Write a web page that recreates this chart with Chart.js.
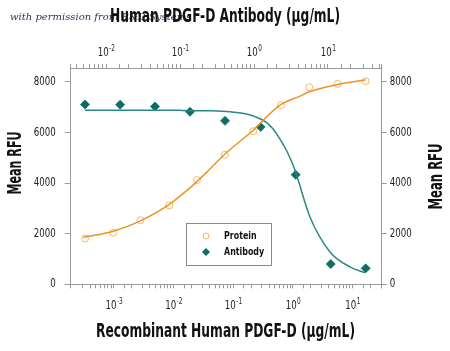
<!DOCTYPE html>
<html>
<head>
<meta charset="utf-8">
<script src="https://cdn.jsdelivr.net/npm/chart.js@4.4.1/dist/chart.umd.min.js"></script>
<style>
  body { margin: 0; background: #fff; }
</style>
</head>
<body>
<canvas id="pdgfChart" width="450" height="351"></canvas>
<script>
// Recombinant Human PDGF-D protein, bottom axis (ug/mL)
const proteinConc = [0.00033, 0.00098, 0.0028, 0.0085, 0.0247, 0.0726, 0.216, 0.629, 1.88, 5.61, 16.5];
const proteinRFU = [1810, 2040, 2530, 3120, 4120, 5120, 6050, 7080, 7790, 7920, 8030];
// fitted curve for the protein
const proteinFitConc = [0.000307, 0.00098, 0.00274, 0.00828, 0.0188, 0.0381, 0.0726, 0.216, 0.311, 0.606, 1.31, 1.88, 5.61, 16.5];
const proteinFitRFU = [1850, 2100, 2500, 3140, 3810, 4490, 5150, 6090, 6460, 7080, 7440, 7610, 7900, 8090];

// Human PDGF-D antibody, top axis (ug/mL)
const antibodyConc = [0.0052, 0.0155, 0.0459, 0.1365, 0.406, 1.23, 3.66, 10.9, 32.3];
const antibodyRFU = [7110, 7100, 7030, 6820, 6460, 6220, 4330, 800, 630];
const antibodyFitConc = [0.0052, 0.1, 0.254, 0.474, 0.796, 1.205, 1.485, 1.824, 2.245, 2.765, 3.40, 3.78, 5.71, 10.64, 19.8, 31.6];
const antibodyFitRFU = [6880, 6875, 6860, 6820, 6730, 6546, 6390, 6130, 5740, 5280, 4690, 4300, 2660, 1280, 690, 460];

const rfuTicks = [0, 2000, 4000, 6000, 8000];
const bottomPowers = [-3, -2, -1, 0, 1];
const topPowers = [-2, -1, 0, 1];

const FONT = '"DejaVu Sans Condensed", "DejaVu Sans", sans-serif';
const SQUEEZE = 0.8;   // the original uses a condensed face
const orange = '#ec9326';
const teal = '#1f7f7b';

const toPoints = (xs, ys) => xs.map((x, i) => ({ x: x, y: ys[i] }));

// squeezed text; if width is given the text is fitted to it
function drawText(ctx, text, x, y, font, align, opts) {
    opts = opts || {};
    ctx.save();
    ctx.font = font;
    ctx.textAlign = align;
    ctx.textBaseline = 'middle';
    let sx = SQUEEZE;
    if (opts.width) sx = opts.width / ctx.measureText(text).width;
    ctx.translate(x, y);
    if (opts.rotate) ctx.rotate(-Math.PI / 2);
    ctx.scale(sx, 1);
    ctx.fillStyle = opts.color || '#111';
    ctx.fillText(text, 0, 0);
    ctx.restore();
}

const watermark = {
    id: 'watermark',
    beforeDraw(chart) {
        const ctx = chart.ctx;
        ctx.save();
        ctx.font = 'italic 10px "DejaVu Serif", serif';
        ctx.fillStyle = '#2b3550';
        ctx.textBaseline = 'middle';
        ctx.fillText('with permission from R&D Systems', 10, 17);
        ctx.restore();
    }
};

// tick labels and axis titles
const axisText = {
    id: 'axisText',
    afterDraw(chart) {
        const ctx = chart.ctx;
        const { x, x2, y, y2 } = chart.scales;

        // powers of ten: "10" with a raised exponent
        const sets = [
            { scale: x, powers: bottomPowers, yy: x.top + 22 },
            { scale: x2, powers: topPowers, yy: x2.bottom - 15 }
        ];
        sets.forEach(s => {
            s.powers.forEach(p => {
                const px = s.scale.getPixelForValue(Math.pow(10, p));
                const exp = String(p);
                ctx.font = '12px ' + FONT;
                const w1 = ctx.measureText('10').width * SQUEEZE;
                ctx.font = '8px ' + FONT;
                const w2 = ctx.measureText(exp).width * SQUEEZE;
                const x0 = px - (w1 + w2) / 2;
                drawText(ctx, '10', x0, s.yy, '12px ' + FONT, 'left', { color: '#222' });
                drawText(ctx, exp, x0 + w1 + 0.5, s.yy - 4, '8px ' + FONT, 'left', { color: '#222' });
            });
        });

        // RFU ticks on both sides
        rfuTicks.forEach(v => {
            drawText(ctx, String(v), y.right - 15, y.getPixelForValue(v), '12px ' + FONT, 'right', { color: '#222' });
            drawText(ctx, String(v), y2.left + 8, y2.getPixelForValue(v), '12px ' + FONT, 'left', { color: '#222' });
        });

        const bold = 'bold 20px ' + FONT;
        drawText(ctx, 'Human PDGF-D Antibody (\u00b5g/mL)', 225, 17, bold, 'center', { width: 230 });
        drawText(ctx, 'Recombinant Human PDGF-D (\u00b5g/mL)', 225.5, 331.5, bold, 'center', { width: 259 });
        drawText(ctx, 'Mean RFU', 16, 163, 'bold 19px ' + FONT, 'center', { width: 63, rotate: true });
        drawText(ctx, 'Mean RFU', 437, 176.5, 'bold 19px ' + FONT, 'center', { width: 66, rotate: true });
    }
};

// boxed legend inside the plot, built from the point datasets
const boxLegend = {
    id: 'boxLegend',
    afterDraw(chart) {
        const ctx = chart.ctx;
        const left = 186, top = 223, w = 85, h = 42;
        ctx.save();
        ctx.strokeStyle = '#8a8a8a';
        ctx.lineWidth = 1;
        ctx.strokeRect(left + 0.5, top + 0.5, w, h);
        const items = chart.data.datasets.filter(d => !d.showLine);
        items.forEach((d, i) => {
            const cy = top + 13 + i * 16;
            const cx = left + 20;
            ctx.strokeStyle = d.borderColor;
            ctx.fillStyle = d.backgroundColor;
            ctx.lineWidth = 1;
            if (d.pointStyle === 'rectRot') {
                ctx.beginPath();
                ctx.moveTo(cx, cy - 4);
                ctx.lineTo(cx + 4, cy);
                ctx.lineTo(cx, cy + 4);
                ctx.lineTo(cx - 4, cy);
                ctx.closePath();
                ctx.fill();
            } else {
                ctx.beginPath();
                ctx.arc(cx, cy, 3, 0, Math.PI * 2);
                ctx.stroke();
            }
            drawText(ctx, d.label, left + 38, cy, 'bold 11px ' + FONT, 'left');
        });
        ctx.restore();
    }
};

const axisLine = { display: true, color: '#9a9a9a', width: 1 };
const noLabels = { autoSkip: false, maxRotation: 0, callback: () => '' };

const chart = new Chart(
    document.getElementById('pdgfChart'),
    {
        type: 'scatter',
        data: {
            datasets: [
                {
                    label: 'Protein fit',
                    data: toPoints(proteinFitConc, proteinFitRFU),
                    xAxisID: 'x', yAxisID: 'y',
                    showLine: true,
                    borderColor: orange,
                    borderWidth: 1.5,
                    pointRadius: 0,
                    cubicInterpolationMode: 'monotone'
                },
                {
                    label: 'Antibody fit',
                    data: toPoints(antibodyFitConc, antibodyFitRFU),
                    xAxisID: 'x2', yAxisID: 'y',
                    showLine: true,
                    borderColor: '#2a8884',
                    borderWidth: 1.5,
                    pointRadius: 0,
                    cubicInterpolationMode: 'monotone'
                },
                {
                    label: 'Protein',
                    data: toPoints(proteinConc, proteinRFU),
                    xAxisID: 'x', yAxisID: 'y',
                    pointStyle: 'circle',
                    pointRadius: 3.5,
                    borderColor: '#f4b56a',
                    backgroundColor: 'rgba(255,255,255,0)',
                    borderWidth: 1
                },
                {
                    label: 'Antibody',
                    data: toPoints(antibodyConc, antibodyRFU),
                    xAxisID: 'x2', yAxisID: 'y',
                    pointStyle: 'rectRot',
                    pointRadius: 4.5,
                    borderColor: teal,
                    backgroundColor: '#0f6b63',
                    borderWidth: 1
                }
            ]
        },
        plugins: [watermark, axisText, boxLegend],
        options: {
            responsive: false,
            animation: false,
            layout: { padding: 0 },
            plugins: {
                legend: { display: false },
                tooltip: { enabled: false }
            },
            scales: {
                x: {
                    type: 'logarithmic',
                    position: 'bottom',
                    min: 0.00019,
                    max: 30.6,
                    afterFit: s => { s.height = 66.7; },
                    border: axisLine,
                    grid: { drawOnChartArea: false, tickLength: 4, color: '#9a9a9a' },
                    ticks: noLabels
                },
                x2: {
                    type: 'logarithmic',
                    position: 'top',
                    min: 0.00333,
                    max: 53.2,
                    afterFit: s => { s.height = 68; },
                    border: axisLine,
                    grid: { drawOnChartArea: false, tickLength: 4, color: '#9a9a9a' },
                    ticks: noLabels
                },
                y: {
                    position: 'left',
                    min: 0,
                    max: 8550,
                    afterFit: s => { s.width = 70.7; },
                    afterBuildTicks: s => { s.ticks = rfuTicks.map(v => ({ value: v })); },
                    border: axisLine,
                    grid: { drawOnChartArea: false, tickLength: 6, color: '#9a9a9a' },
                    ticks: { callback: () => '' }
                },
                y2: {
                    position: 'right',
                    min: 0,
                    max: 8550,
                    afterFit: s => { s.width = 68.3; },
                    afterBuildTicks: s => { s.ticks = rfuTicks.map(v => ({ value: v })); },
                    border: axisLine,
                    grid: { drawOnChartArea: false, tickLength: 5, color: '#9a9a9a' },
                    ticks: { callback: () => '' }
                }
            }
        }
    }
);
</script>
</body>
</html>
